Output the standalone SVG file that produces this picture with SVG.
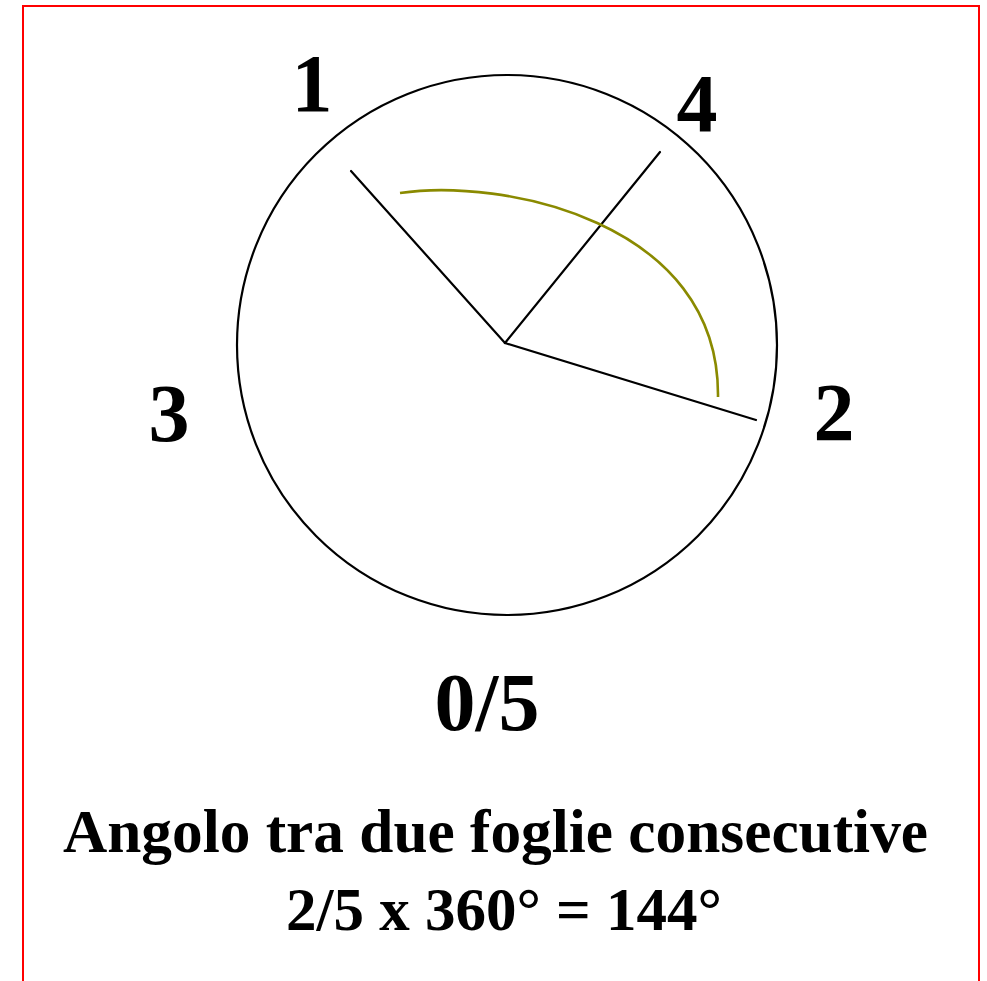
<svg xmlns="http://www.w3.org/2000/svg" width="987" height="981" viewBox="0 0 987 981">
<style>
.lbl{font-family:"Liberation Serif","Times New Roman",serif;font-weight:bold;font-size:82px;fill:#000;text-anchor:middle}
.cap{font-family:"Liberation Serif","Times New Roman",serif;font-weight:bold;font-size:61px;fill:#000}
.ln{stroke:#000;stroke-width:2.2;fill:none;stroke-linecap:round}
</style>
<rect x="0" y="0" width="987" height="981" fill="#fff"/>
<rect x="23" y="6" width="956" height="1000" fill="none" stroke="#ff0000" stroke-width="2"/>
<g id="circle">
<circle cx="507" cy="345" r="270" class="ln"/>
</g>
<g id="connectors">
<line x1="505" y1="343" x2="351" y2="171" class="ln"/>
<line x1="505" y1="343" x2="660" y2="152" class="ln"/>
<line x1="505" y1="343" x2="756" y2="420" class="ln"/>
<path d="M400,193 C500,178 720,220 718,397" fill="none" stroke="#8a8a00" stroke-width="2.6"/>
</g>
<g id="label-1"><text class="lbl" x="312" y="111">1</text></g>
<g id="label-4"><text class="lbl" x="697" y="131">4</text></g>
<g id="label-3"><text class="lbl" x="169" y="441">3</text></g>
<g id="label-2"><text class="lbl" x="834" y="440">2</text></g>
<g id="label-05"><text class="lbl" x="487" y="730">0/5</text></g>
<g id="caption">
<text class="cap" x="63" y="852" textLength="865" lengthAdjust="spacingAndGlyphs">Angolo tra due foglie consecutive</text>
<text class="cap" x="286" y="930" textLength="436" lengthAdjust="spacingAndGlyphs">2/5 x 360° = 144°</text>
</g>
</svg>
